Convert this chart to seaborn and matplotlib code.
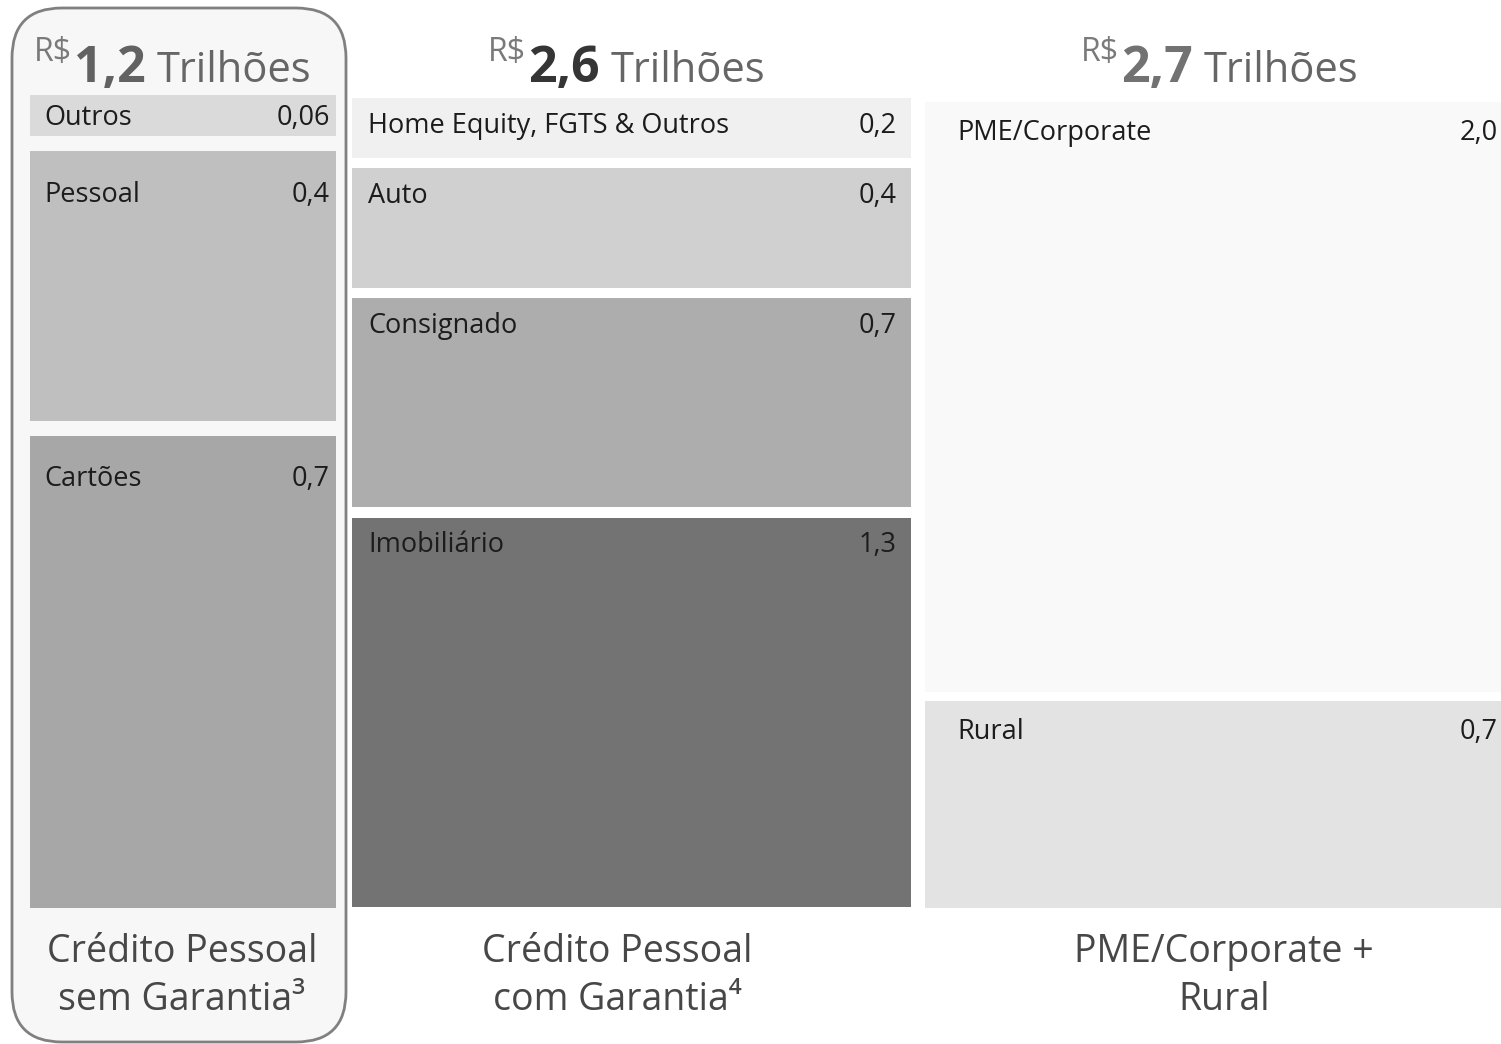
import matplotlib
matplotlib.use("Agg")
import matplotlib.pyplot as plt
import seaborn as sns
from matplotlib.patches import FancyBboxPatch
from matplotlib.transforms import IdentityTransform

# ---------------- data ----------------
col1_names = ["Outros", "Pessoal", "Cartões"]
col1_values = [0.06, 0.4, 0.7]
col1_labels = ["0,06", "0,4", "0,7"]
col1_total = "1,2"
col1_title = "Crédito Pessoal\nsem Garantia³"

col2_names = ["Home Equity, FGTS & Outros", "Auto", "Consignado", "Imobiliário"]
col2_values = [0.2, 0.4, 0.7, 1.3]
col2_labels = ["0,2", "0,4", "0,7", "1,3"]
col2_total = "2,6"
col2_title = "Crédito Pessoal\ncom Garantia⁴"

col3_names = ["PME/Corporate", "Rural"]
col3_values = [2.0, 0.7]
col3_labels = ["2,0", "0,7"]
col3_total = "2,7"
col3_title = "PME/Corporate +\nRural"

currency = "R$"
unit = "Trilhões"

# ---------------- style ----------------
sns.set_theme(style="white")
plt.rcParams["font.family"] = ["Open Sans", "DejaVu Sans"]

W, H = 1501, 1044
fig = plt.figure(figsize=(W / 100, H / 100), dpi=100)
fig.patch.set_facecolor("white")

columns = [
    dict(names=col1_names, values=col1_values, labels=col1_labels, total=col1_total, title=col1_title,
         colors=["#dadada", "#bfbfbf", "#a7a7a7"], x0=30, x1=336, y0=95, y1=908, gap=15,
         dx=14, dxr=6, dy=44, hx=34, numcolor="#626262", tx=182),
    dict(names=col2_names, values=col2_values, labels=col2_labels, total=col2_total, title=col2_title,
         colors=["#f0f0f0", "#d0d0d0", "#adadad", "#737373"], x0=352, x1=911, y0=98, y1=907, gap=10,
         dx=16, dxr=14, dy=28, hx=488, numcolor="#353535", tx=617),
    dict(names=col3_names, values=col3_values, labels=col3_labels, total=col3_total, title=col3_title,
         colors=["#f9f9f9", "#e3e3e3"], x0=925, x1=1520, y0=102, y1=908, gap=9,
         dx=32, dxr=22, dy=31, hx=1081, numcolor="#727272", tx=1224),
]

# rounded frame around first column
frame = FancyBboxPatch((12, H - 1042), 334, 1034,
                       boxstyle="round,pad=0,rounding_size=50",
                       transform=IdentityTransform(), facecolor="#f7f7f7",
                       edgecolor="#808080", linewidth=2.0, zorder=-5)
fig.add_artist(frame)

for col in columns:
    vals = col["values"]
    n = len(vals)
    total = sum(vals)
    h_px = col["y1"] - col["y0"]
    usable = h_px - (n - 1) * col["gap"]
    g = col["gap"] * total / usable
    ax = fig.add_axes([col["x0"] / W, 1 - col["y1"] / H,
                       (col["x1"] - col["x0"]) / W, h_px / H])
    ax.patch.set_visible(False)
    ax.set_xlim(0, 1)
    ax.set_ylim(total + (n - 1) * g, 0)
    ax.axis("off")
    cum = 0.0
    for i, (name, v, lab, c) in enumerate(zip(col["names"], vals, col["labels"], col["colors"])):
        bottom = cum + i * g
        ax.bar(0.5, v, bottom=bottom, width=1.0, color=c, linewidth=0)
        bar_px = v * usable / total
        dy = min(col["dy"], bar_px / 2 + 3)
        ax.annotate(name, xy=(0, bottom), xytext=(col["dx"], -dy), textcoords="offset pixels",
                    ha="left", va="center", fontsize=19.5, color="#1c1c1c", annotation_clip=False)
        ax.annotate(lab, xy=(1, bottom), xytext=(-col["dxr"], -dy), textcoords="offset pixels",
                    ha="right", va="center", fontsize=19.5, color="#1c1c1c", annotation_clip=False)
        cum += v

    fig.text(col["tx"] / W, 1 - 976 / H, col["title"], ha="center", va="center",
             multialignment="center", fontsize=27, color="#474747", linespacing=1.35)

# headers: "R$" + bold total + "Trilhões"
renderer = fig.canvas.get_renderer()
for col in columns:
    t1 = fig.text(col["hx"] / W, 1 - 61 / H, currency, fontsize=23, color="#7a7a7a",
                  ha="left", va="baseline")
    bb1 = t1.get_window_extent(renderer)
    t2 = fig.text((bb1.x1 + 2) / W, 1 - 82 / H, col["total"], fontsize=36, fontweight="bold",
                  color=col["numcolor"], ha="left", va="baseline")
    bb2 = t2.get_window_extent(renderer)
    fig.text((bb2.x1 + 11) / W, 1 - 82 / H, unit, fontsize=30, color="#666666",
             ha="left", va="baseline")

fig.savefig("out.png", dpi=100, facecolor="white")
